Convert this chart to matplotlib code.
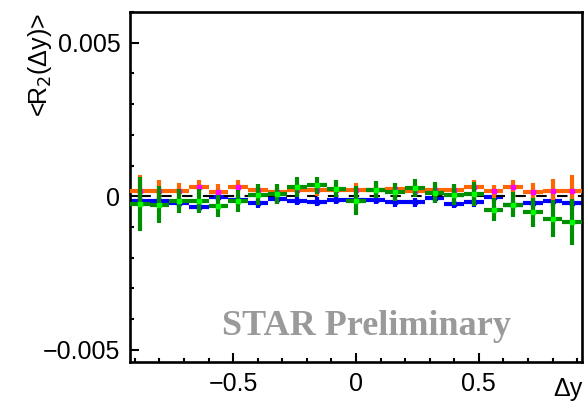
import matplotlib
matplotlib.use("Agg")
import matplotlib.pyplot as plt
from matplotlib.ticker import MultipleLocator, FixedLocator

plt.rcParams['font.family'] = ['Liberation Sans', 'DejaVu Sans']
plt.rcParams['axes.unicode_minus'] = True

# bin centres (Delta y)
dy = [-0.88, -0.80, -0.72, -0.64, -0.56, -0.48, -0.40, -0.32, -0.24, -0.16, -0.08, 0.00,
      0.08, 0.16, 0.24, 0.32, 0.40, 0.48, 0.56, 0.64, 0.72, 0.80, 0.88]
half_bin = [0.04] * 23

# orange series
orange_val = [1.73e-4, 1.73e-4, 1.63e-4, 2.93e-4, 1.53e-4, 2.93e-4, 2.05e-4, 1.53e-4,
              2.05e-4, 2.05e-4, 2.05e-4, 2.05e-4, 2.18e-4, 2.28e-4, 1.86e-4, 1.95e-4,
              2.05e-4, 3.16e-4, 1.56e-4, 2.93e-4, 1.53e-4, 1.86e-4, 1.86e-4]
orange_err = [5.1e-4, 3.7e-4, 2.8e-4, 2.5e-4, 2.3e-4, 2.3e-4, 2.0e-4, 2.0e-4,
              2.0e-4, 2.0e-4, 2.0e-4, 2.4e-4, 2.0e-4, 2.0e-4, 2.0e-4, 2.0e-4,
              2.0e-4, 2.05e-4, 2.0e-4, 2.5e-4, 2.9e-4, 3.7e-4, 5.0e-4]

# blue series
blue_val = [-1.63e-4, -1.47e-4, -2.12e-4, -3.42e-4, -0.16e-4, -1.30e-4, -2.28e-4, -0.98e-4,
            -1.40e-4, -1.73e-4, -1.14e-4, -1.14e-4, -1.14e-4, -1.86e-4, -1.95e-4, -0.59e-4,
            -2.38e-4, -1.86e-4, -0.33e-4, -2.77e-4, -2.12e-4, -1.56e-4, -2.12e-4]
blue_err = [2.0e-4, 1.8e-4, 1.6e-4, 1.5e-4, 1.5e-4, 1.5e-4, 1.5e-4, 1.5e-4,
            1.5e-4, 1.5e-4, 1.5e-4, 1.5e-4, 1.5e-4, 1.5e-4, 1.5e-4, 1.5e-4,
            1.5e-4, 1.5e-4, 1.5e-4, 1.5e-4, 1.6e-4, 1.8e-4, 2.0e-4]

# green series
green_val = [-2.38e-4, -2.70e-4, -1.63e-4, -1.53e-4, -3.16e-4, -1.63e-4, 0.55e-4, 0.65e-4,
             3.03e-4, 3.58e-4, 2.50e-4, -1.40e-4, 2.18e-4, 1.40e-4, 2.70e-4, 1.20e-4,
             0.55e-4, 0.65e-4, -4.33e-4, -2.70e-4, -5.30e-4, -7.26e-4, -8.37e-4]
green_err = [8.8e-4, 5.9e-4, 3.9e-4, 3.8e-4, 3.6e-4, 3.6e-4, 3.4e-4, 3.3e-4,
             3.2e-4, 2.8e-4, 2.7e-4, 4.7e-4, 2.7e-4, 2.8e-4, 2.9e-4, 3.4e-4,
             3.3e-4, 3.9e-4, 3.7e-4, 4.2e-4, 4.7e-4, 5.9e-4, 7.5e-4]

x_ticks = [-0.5, 0.0, 0.5]
x_ticklabels = ['\u22120.5', '0', '0.5']
y_ticks = [-0.005, 0.0, 0.005]
y_ticklabels = ['\u22120.005', '0', '0.005']

fig = plt.figure(figsize=(5.85, 4.03), dpi=100)
ax = fig.add_axes([130 / 585, 1 - 362 / 403, 452 / 585, 350 / 403])

ew = 3.0
ax.errorbar(dy, blue_val, xerr=half_bin, yerr=blue_err, fmt='s', ms=2.2,
            color='#0000ff', ecolor='#0000ff', elinewidth=ew, capsize=0, zorder=2)
ax.axhline(0, color='black', lw=1.5, linestyle=(5, (5, 5)), zorder=3)
ax.errorbar(dy, orange_val, xerr=half_bin, yerr=orange_err, fmt='s', ms=2.2,
            mfc='#ff00ff', mec='#ff00ff', ecolor='#ff6600', elinewidth=ew, capsize=0, zorder=4)
ax.errorbar(dy, green_val, xerr=half_bin, yerr=green_err, fmt='s', ms=2.2,
            mfc='#00ff00', mec='#00ff00', ecolor='#008f00', elinewidth=ew, capsize=0, zorder=5)

ax.set_xlim(-0.92, 0.92)
ax.set_ylim(-0.0054, 0.006)

ax.xaxis.set_major_locator(FixedLocator(x_ticks))
ax.set_xticklabels(x_ticklabels)
ax.xaxis.set_minor_locator(MultipleLocator(0.1))
ax.yaxis.set_major_locator(FixedLocator(y_ticks))
ax.set_yticklabels(y_ticklabels)
ax.yaxis.set_minor_locator(MultipleLocator(0.001))

ax.tick_params(axis='both', which='both', direction='in', top=False, right=False,
               width=1.5, labelsize=18)
ax.tick_params(axis='both', which='major', length=6.5, pad=7)
ax.tick_params(axis='both', which='minor', length=3.2)
for s in ax.spines.values():
    s.set_linewidth(1.9)

fig.text(40 / 585, 1 - 13 / 403, '<R$_{2}$(\u0394y)>', rotation=90, ha='center', va='top',
         fontsize=18)
fig.text(583 / 585, 1 - 401 / 403, '\u0394y', ha='right', va='bottom', fontsize=18)

fig.text(366 / 585, 1 - 335 / 403, 'STAR Preliminary', ha='center', va='baseline',
         fontsize=26, fontweight='bold', family='Liberation Serif', color='#9a9a9a')

fig.savefig('out.png', dpi=100)
